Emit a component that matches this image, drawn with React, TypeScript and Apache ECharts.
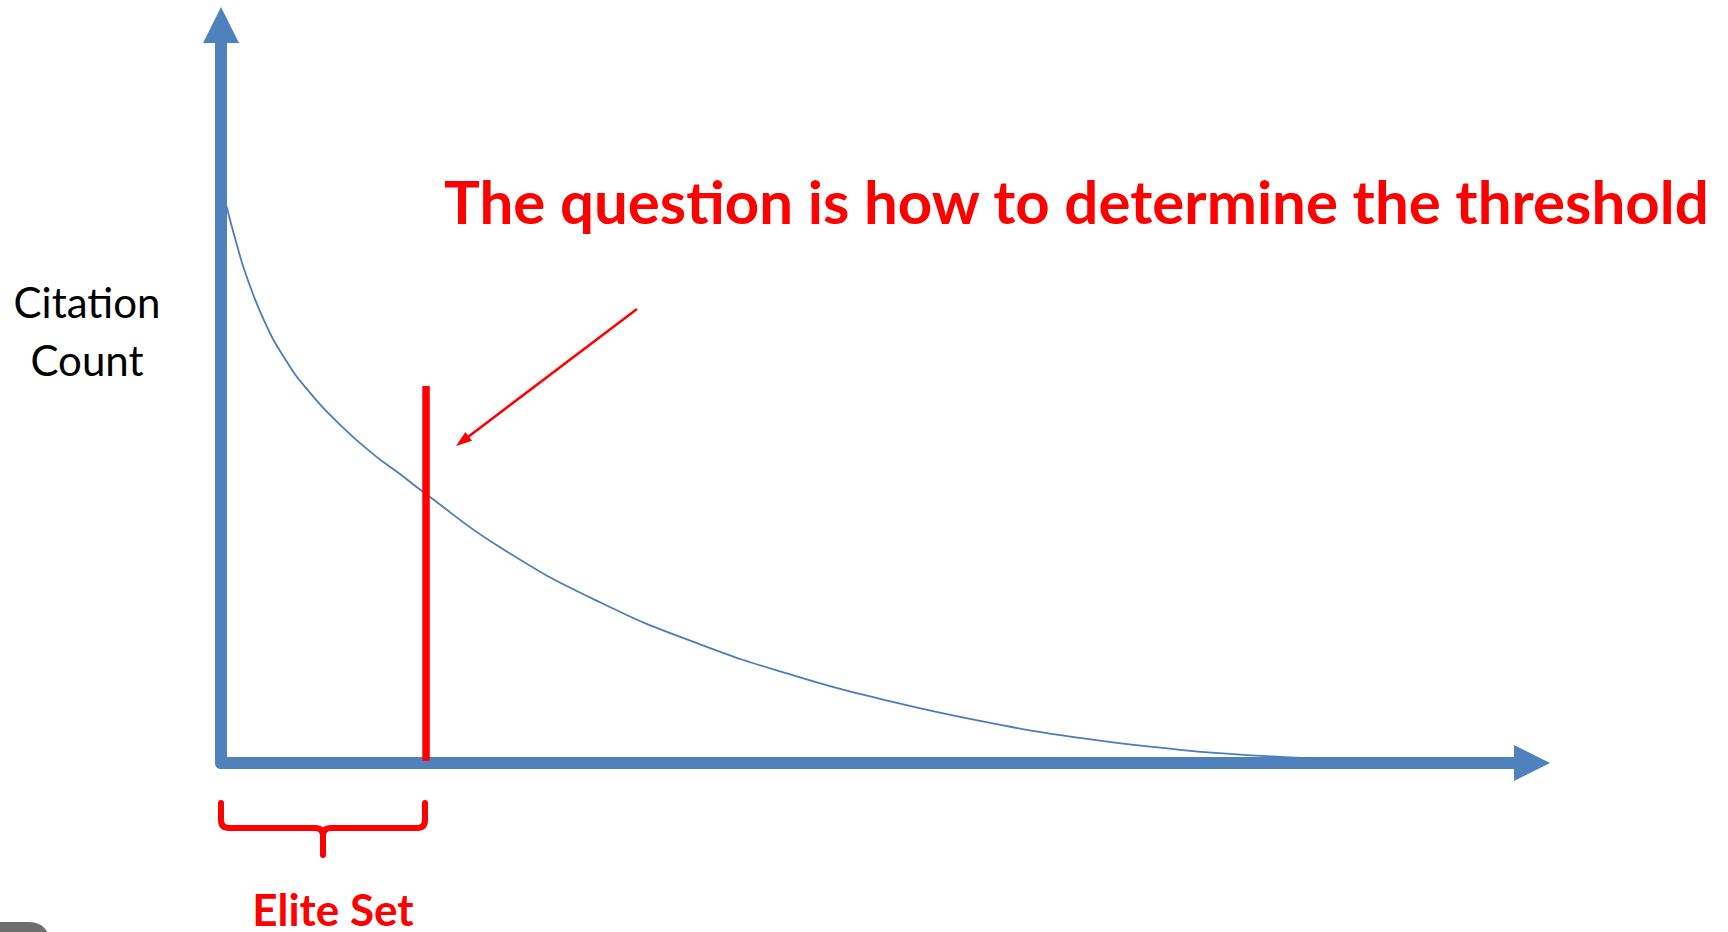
import React, { useEffect, useRef } from "react";
import * as echarts from "echarts";

// Citation-count decay curve (x: rank share, y: citations)
const curveX = [0.43, 1.12, 1.9, 3.36, 4.88, 6.54, 9.21, 11.75, 13.65, 15.56, 21.28, 28.91, 36.54, 44.16, 50.27, 57.89, 65.52, 73.15, 76.96, 80.78, 83.83];
const curveY = [75.38, 70.8, 66.2, 59.66, 54.77, 50.7, 45.62, 41.65, 39.16, 36.54, 29.23, 21.78, 16.08, 11.61, 8.69, 5.7, 3.4, 1.78, 1.23, 0.83, 0.61];
const thresholdX = 15.64;
const thresholdTop = 51.1;
const arrowFrom = [31.73, 61.52];
const arrowTo = [18.41, 43.6];
const titleText = "The question is how to determine the threshold";
const yAxisLabel = ["Citation", "Count"];
const braceLabel = "Elite Set";

const AXIS_BLUE = "#4f81bd";
const CURVE_BLUE = "#4a7ebb";
const RED = "#ff0000";

const braceD =
  "M221 803 L221 820 Q221 828 229 828 L315 828 Q323 828 323 836 L323 855 M323 836 Q323 828 331 828 L417 828 Q425 828 425 820 L425 803";

export default function App() {
  const ref = useRef<HTMLDivElement>(null);
  useEffect(() => {
    if (!ref.current) return;
    try {
      echarts.graphic.registerShape("brace", echarts.graphic.extendPath(braceD, {}));
    } catch (e) {}
    const chart = echarts.init(ref.current, undefined, { renderer: "svg" });
    const curve = curveX.map((x, i) => [x, curveY[i]]);
    chart.setOption({
      animation: false,
      backgroundColor: "#ffffff",
      grid: { left: 221, right: 196, top: 25, bottom: 169, containLabel: false },
      xAxis: {
        type: "value",
        min: 0,
        max: 100,
        axisLine: {
          show: true,
          symbol: ["none", "triangle"],
          symbolSize: [36, 36],
          lineStyle: { color: AXIS_BLUE, width: 12 },
        },
        axisTick: { show: false },
        axisLabel: { show: false },
        splitLine: { show: false },
      },
      yAxis: {
        type: "value",
        min: 0,
        max: 100,
        axisLine: {
          show: true,
          symbol: ["none", "triangle"],
          symbolSize: [36, 36],
          lineStyle: { color: AXIS_BLUE, width: 12 },
        },
        axisTick: { show: false },
        axisLabel: { show: false },
        splitLine: { show: false },
      },
      series: [
        {
          type: "line",
          data: curve,
          smooth: 0.5,
          showSymbol: false,
          silent: true,
          lineStyle: { color: CURVE_BLUE, width: 1.8 },
          z: 2,
        },
        {
          type: "line",
          data: [
            [thresholdX, 0.3],
            [thresholdX, thresholdTop],
          ],
          showSymbol: false,
          silent: true,
          lineStyle: { color: RED, width: 7.5, cap: "butt" },
          z: 3,
          markLine: {
            silent: true,
            animation: false,
            symbol: ["none", "triangle"],
            symbolSize: [11, 16],
            label: { show: false },
            lineStyle: { color: RED, width: 2.5, type: "solid" },
            data: [[{ coord: arrowFrom }, { coord: arrowTo }]],
          },
        },
      ],
      graphic: [
        {
          type: "text",
          x: 444,
          y: 201,
          style: {
            text: titleText,
            fill: RED,
            font: "bold 60px Lato",
            align: "left",
            verticalAlign: "middle",
          },
        },
        {
          type: "text",
          x: 87,
          y: 331,
          style: {
            text: yAxisLabel.join("\n"),
            fill: "#000000",
            font: "42px Lato",
            lineHeight: 58,
            align: "center",
            verticalAlign: "middle",
          },
        },
        {
          type: "text",
          x: 333,
          y: 909,
          style: {
            text: braceLabel,
            fill: RED,
            font: "bold 44px Lato",
            align: "center",
            verticalAlign: "middle",
          },
        },
        {
          type: "brace",
          x: 0,
          y: 0,
          style: { fill: "none", stroke: RED, lineWidth: 6, lineJoin: "round", lineCap: "round" },
        },
        {
          type: "rect",
          shape: { x: -20, y: 922, width: 70, height: 40, r: 20 },
          style: { fill: "#6e6e6e" },
        },
      ],
    });
    return () => chart.dispose();
  }, []);
  return (
    <div
      ref={ref}
      style={{ position: "absolute", left: 0, top: 0, width: 1728, height: 932, background: "#fff" }}
    />
  );
}
